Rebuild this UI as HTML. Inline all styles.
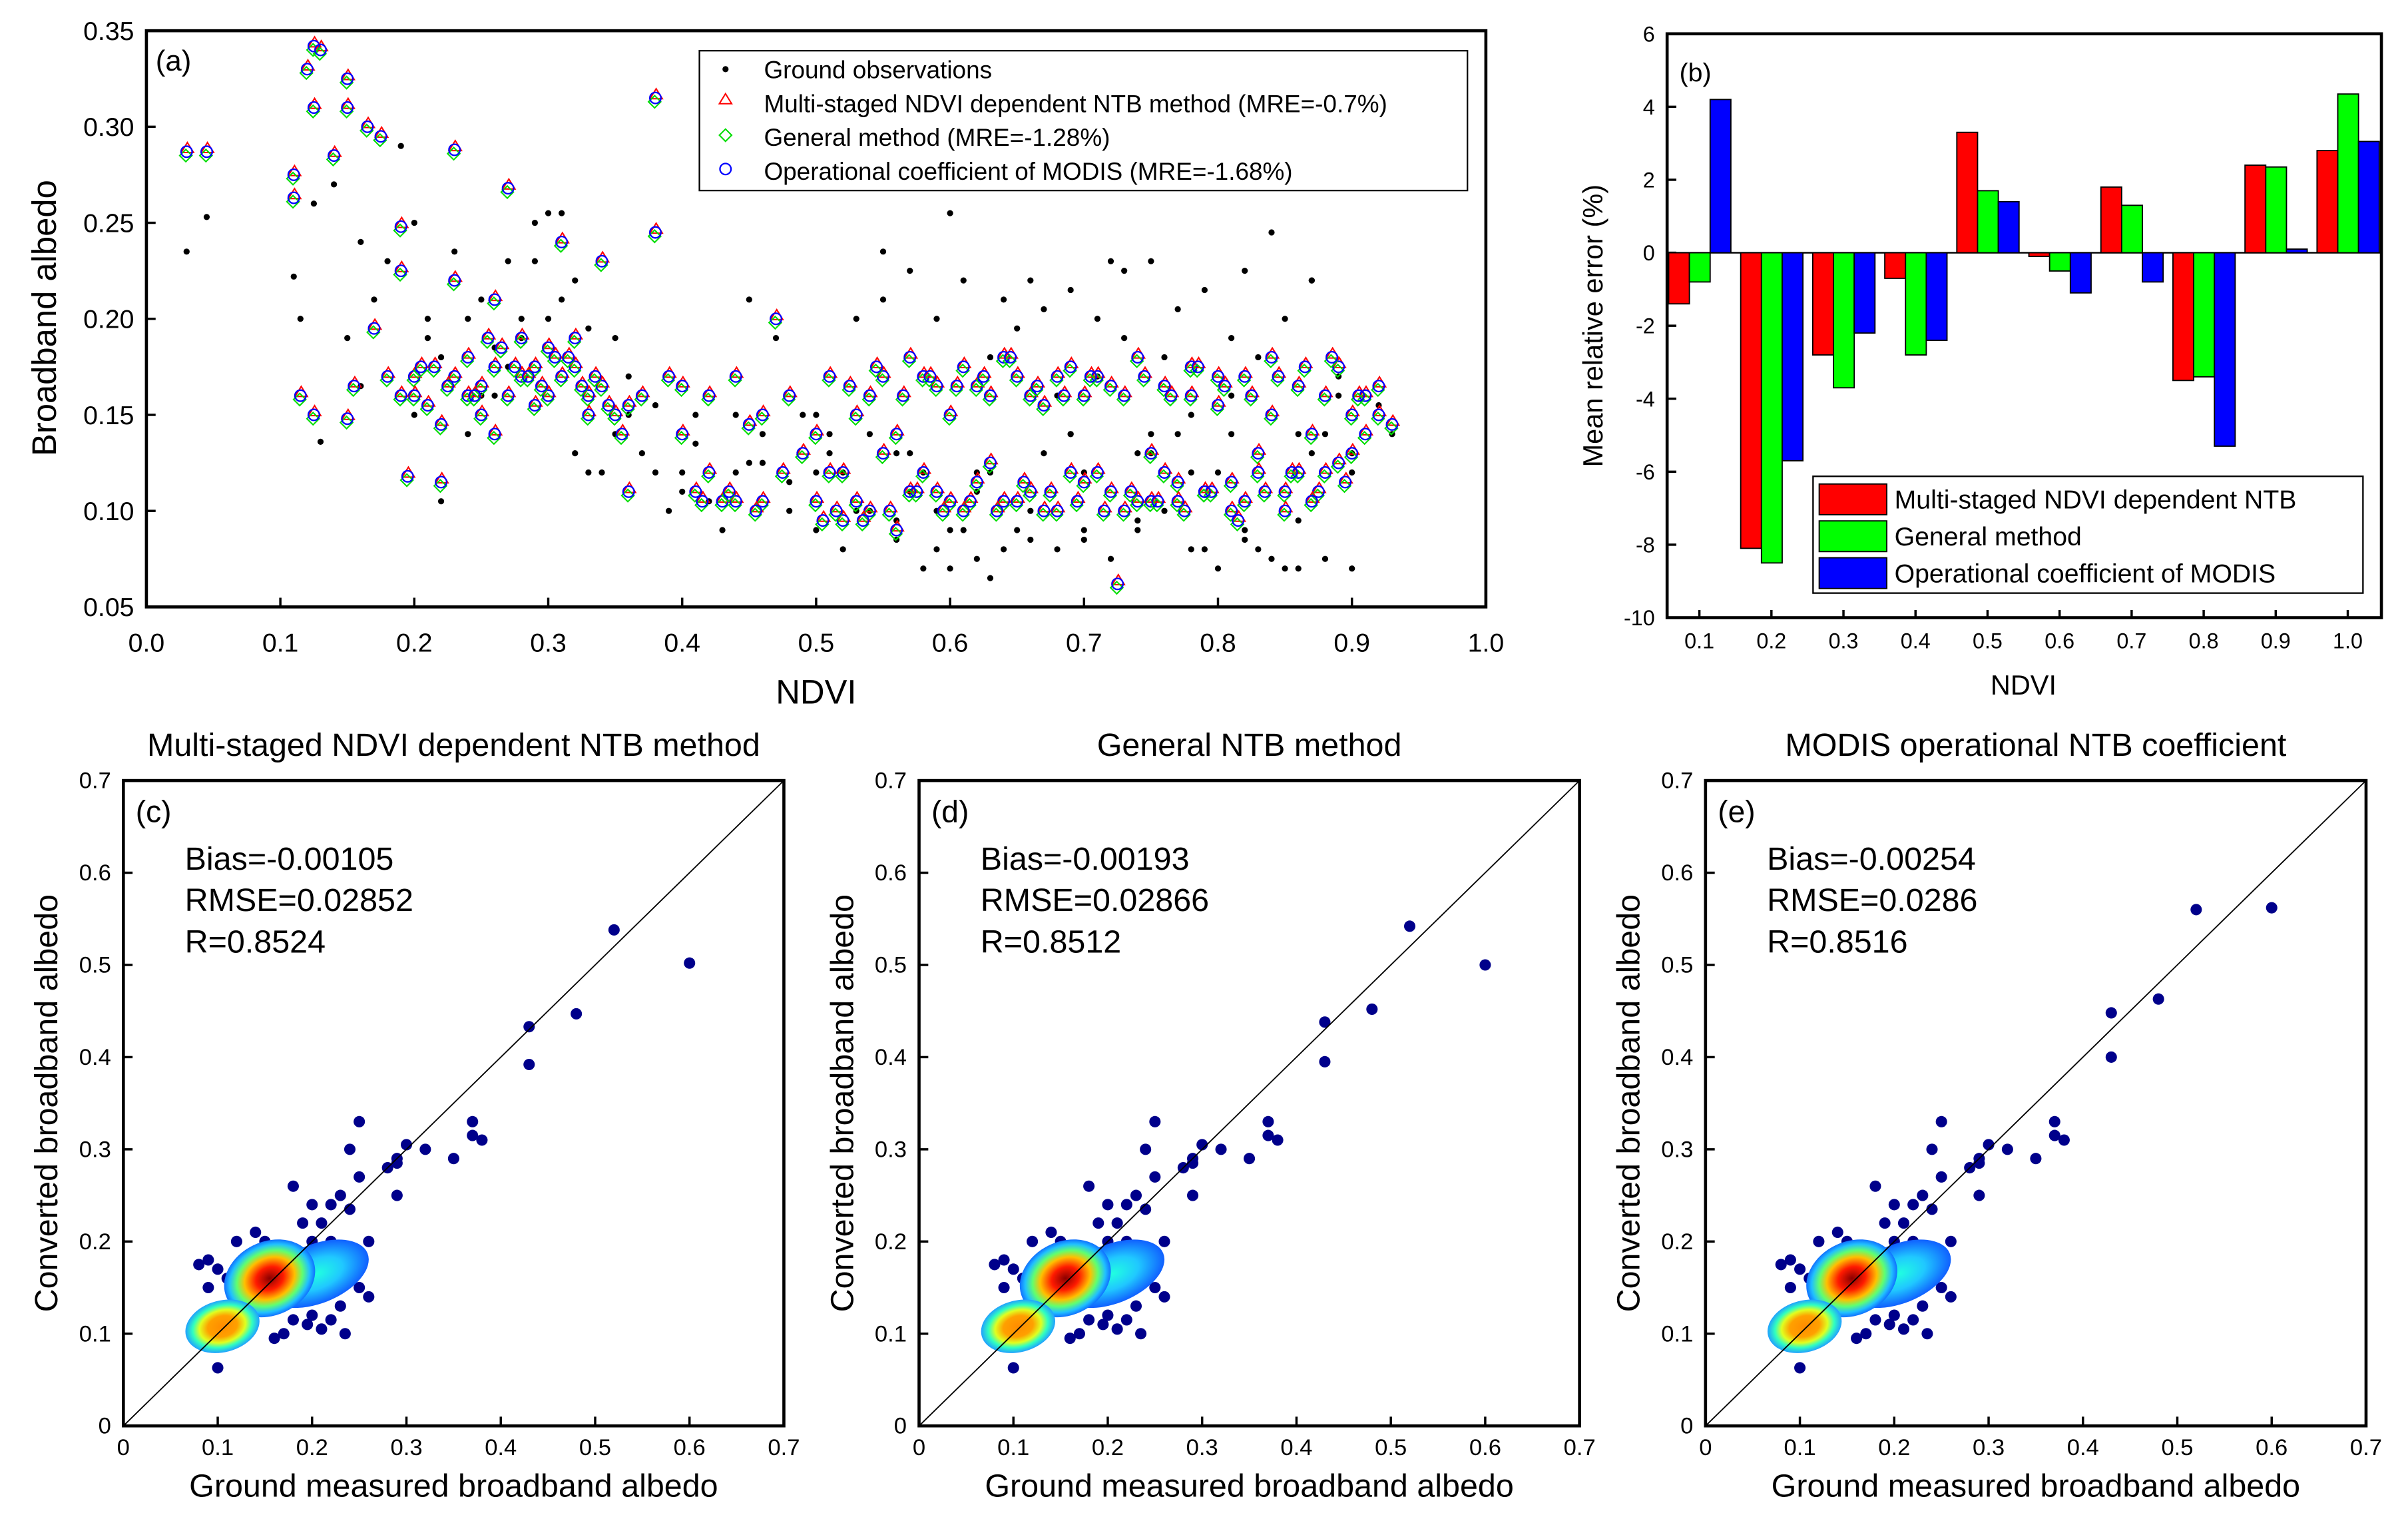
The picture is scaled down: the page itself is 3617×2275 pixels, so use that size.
<!DOCTYPE html>
<html><head><meta charset="utf-8"><style>
html,body{margin:0;padding:0;background:#fff}
svg{display:block}
text{font-family:"Liberation Sans",Arial,sans-serif;fill:#000}
</style></head><body>
<svg id="fig" width="3617" height="2275" viewBox="0 0 1567 986" xmlns="http://www.w3.org/2000/svg">
<defs>
<radialGradient id="gBig" cx="50%" cy="50%" r="50%">
<stop offset="0" stop-color="#8b0000"/><stop offset="0.3" stop-color="#ff1a00"/><stop offset="0.55" stop-color="#ffc000"/><stop offset="0.72" stop-color="#60ff70"/><stop offset="0.88" stop-color="#20c0ff"/><stop offset="1" stop-color="#1070ff"/>
</radialGradient>
<radialGradient id="gSmall" cx="50%" cy="50%" r="50%">
<stop offset="0" stop-color="#ff8c00"/><stop offset="0.4" stop-color="#ffa000"/><stop offset="0.62" stop-color="#e0ff20"/><stop offset="0.8" stop-color="#30ffc0"/><stop offset="1" stop-color="#20a0ff"/>
</radialGradient>
<radialGradient id="gRight" cx="50%" cy="50%" r="50%">
<stop offset="0" stop-color="#20ffe0"/><stop offset="0.5" stop-color="#20c8ff"/><stop offset="1" stop-color="#1060ff"/>
</radialGradient>
</defs>
</svg>
<script>
// ---------- Panel (b) data ----------
const ndviCats = ['0.1','0.2','0.3','0.4','0.5','0.6','0.7','0.8','0.9','1.0'];
const mreNTB = [-1.4,-8.1,-2.8,-0.7,3.3,-0.1,1.8,-3.5,2.4,2.8];
const mreGeneral = [-0.8,-8.5,-3.7,-2.8,1.7,-0.5,1.3,-3.4,2.35,4.35];
const mreMODIS = [4.2,-5.7,-2.2,-2.4,1.4,-1.1,-0.8,-5.3,0.1,3.05];
const bTicks = [-10,-8,-6,-4,-2,0,2,4,6];

// ---------- Panel (a) data ----------
const convNdvi = [0.03,0.045,0.11,0.11,0.12,0.125,0.13,0.125,0.14,0.15,0.15,0.165,0.175,0.115,0.125,0.15,0.155,0.17,0.19,0.19,0.195,0.2,0.215,0.22,0.23,0.23,0.24,0.25,0.25,0.26,0.26,0.27,0.28,0.29,0.3,0.31,0.31,0.32,0.33,0.34,0.35,0.36,0.37,0.38,0.38,0.39,0.4,0.41,0.42,0.43,0.44,0.45,0.46,0.47,0.48,0.49,0.5,0.51,0.52,0.53,0.54,0.55,0.56,0.57,0.58,0.59,0.6,0.61,0.62,0.63,0.64,0.65,0.66,0.67,0.68,0.69,0.7,0.71,0.72,0.725,0.73,0.74,0.75,0.76,0.77,0.78,0.79,0.8,0.81,0.82,0.83,0.84,0.85,0.86,0.87,0.88,0.89,0.9,0.91,0.92,0.93,
0.2,0.21,0.22,0.23,0.24,0.26,0.27,0.28,0.29,0.3,0.32,0.33,0.34,0.36,0.4,0.42,0.44,0.46,0.5,0.52,0.54,0.56,0.58,0.6,0.62,0.64,0.66,0.68,0.7,0.72,0.74,0.76,0.78,0.8,0.82,0.84,0.86,0.88,0.9,0.92,
0.415,0.435,0.455,0.475,0.505,0.515,0.535,0.555,0.575,0.595,0.615,0.635,0.655,0.675,0.695,0.715,0.735,0.755,0.775,0.795,0.815,0.835,0.855,0.875,0.895,0.905,0.525,0.545,0.565,0.585,0.605,0.625,0.645,0.665,0.685,0.705,0.745,0.765,0.785,0.805,0.825,0.845,0.865,0.885,
0.205,0.225,0.245,0.265,0.285,0.305,0.325,0.345,0.18,0.19,0.255,0.275,0.295,0.315,0.335,0.355,0.53,0.57,0.61,0.65,0.69,0.73,0.77,0.81,0.85,0.89,0.51,0.55,0.59,0.63,0.67,0.71,0.75,0.79,0.83,0.87,0.91];
const convAlbedo = [0.287,0.287,0.275,0.263,0.33,0.342,0.34,0.31,0.285,0.325,0.31,0.30,0.295,0.16,0.15,0.148,0.165,0.195,0.248,0.225,0.118,0.17,0.175,0.115,0.288,0.22,0.18,0.165,0.15,0.14,0.21,0.268,0.19,0.175,0.185,0.17,0.24,0.19,0.16,0.23,0.15,0.11,0.16,0.315,0.245,0.17,0.14,0.11,0.16,0.105,0.17,0.145,0.105,0.2,0.16,0.13,0.105,0.17,0.095,0.15,0.1,0.17,0.09,0.18,0.12,0.165,0.105,0.175,0.115,0.16,0.105,0.17,0.11,0.155,0.1,0.175,0.115,0.17,0.11,0.062,0.16,0.18,0.105,0.165,0.115,0.175,0.11,0.155,0.1,0.17,0.13,0.18,0.11,0.165,0.14,0.12,0.175,0.15,0.16,0.15,0.145,
0.16,0.155,0.145,0.17,0.16,0.175,0.16,0.17,0.155,0.16,0.175,0.15,0.165,0.155,0.165,0.12,0.105,0.15,0.14,0.12,0.16,0.14,0.17,0.15,0.165,0.18,0.16,0.17,0.16,0.165,0.105,0.12,0.16,0.17,0.105,0.15,0.12,0.16,0.13,0.165,
0.105,0.11,0.1,0.12,0.095,0.1,0.095,0.1,0.11,0.1,0.105,0.1,0.115,0.11,0.105,0.1,0.11,0.105,0.1,0.11,0.095,0.11,0.12,0.11,0.115,0.16,0.165,0.175,0.16,0.17,0.165,0.17,0.18,0.165,0.16,0.17,0.17,0.16,0.175,0.165,0.16,0.17,0.175,0.18,
0.175,0.165,0.16,0.185,0.17,0.18,0.165,0.155,0.17,0.16,0.19,0.175,0.165,0.18,0.17,0.14,0.105,0.11,0.1,0.105,0.12,0.1,0.105,0.115,0.1,0.125,0.12,0.13,0.11,0.125,0.1,0.12,0.13,0.11,0.12,0.105,0.14];
const groundNdvi = [0.03,0.045,0.11,0.115,0.125,0.13,0.14,0.15,0.16,0.17,0.18,0.19,0.2,0.2,0.21,0.22,0.22,0.23,0.24,0.25,0.25,0.26,0.27,0.27,0.28,0.29,0.3,0.3,0.31,0.32,0.33,0.34,0.35,0.36,0.37,0.38,0.39,0.4,0.41,0.42,0.43,0.44,0.45,0.46,0.47,0.48,0.49,0.5,0.51,0.52,0.53,0.54,0.55,0.56,0.57,0.58,0.59,0.6,0.6,0.61,0.62,0.63,0.64,0.65,0.66,0.67,0.68,0.69,0.7,0.71,0.72,0.73,0.74,0.75,0.76,0.77,0.78,0.79,0.8,0.81,0.82,0.83,0.84,0.85,0.86,0.87,0.88,0.89,0.9,0.92,0.93,
0.16,0.21,0.26,0.29,0.31,0.33,0.35,0.38,0.41,0.45,0.48,0.5,0.52,0.54,0.56,0.58,0.6,0.62,0.64,0.66,0.68,0.7,0.72,0.74,0.76,0.78,0.8,0.82,0.84,0.86,0.88,0.9,0.55,0.57,0.59,0.61,0.63,0.65,0.67,0.69,0.71,0.73,0.75,0.77,0.79,0.81,0.83,0.85,0.87,0.89,
0.24,0.28,0.32,0.36,0.4,0.44,0.46,0.5,0.53,0.56,0.59,0.62,0.66,0.7,0.74,0.78,0.82,0.86,0.9,0.51,0.57,0.63,0.69,0.75,0.81,0.87];
const groundAlbedo = [0.235,0.253,0.222,0.2,0.26,0.136,0.27,0.19,0.24,0.21,0.23,0.29,0.25,0.15,0.2,0.105,0.18,0.235,0.2,0.21,0.16,0.185,0.23,0.175,0.19,0.25,0.255,0.2,0.255,0.22,0.12,0.12,0.19,0.15,0.13,0.155,0.1,0.12,0.135,0.105,0.09,0.12,0.21,0.14,0.19,0.115,0.15,0.15,0.13,0.12,0.2,0.14,0.235,0.13,0.11,0.12,0.08,0.255,0.07,0.09,0.075,0.065,0.21,0.09,0.22,0.13,0.16,0.14,0.12,0.17,0.23,0.225,0.13,0.14,0.18,0.14,0.15,0.08,0.12,0.16,0.225,0.08,0.245,0.07,0.14,0.22,0.14,0.16,0.07,0.155,0.14,
0.165,0.19,0.16,0.23,0.21,0.195,0.14,0.12,0.15,0.125,0.1,0.09,0.08,0.1,0.085,0.07,0.09,0.12,0.08,0.1,0.08,0.085,0.075,0.09,0.1,0.12,0.07,0.09,0.075,0.07,0.075,0.12,0.21,0.225,0.2,0.22,0.18,0.195,0.205,0.215,0.2,0.19,0.23,0.205,0.215,0.19,0.18,0.2,0.22,0.17,
0.14,0.2,0.13,0.17,0.11,0.15,0.125,0.12,0.1,0.095,0.1,0.11,0.085,0.09,0.095,0.08,0.085,0.095,0.13,0.14,0.13,0.12,0.14,0.13,0.14,0.13];

// ---------- Panels (c)-(e) data ----------
const scatterPanels = ['Multi-staged NDVI dependent NTB method','General NTB method','MODIS operational NTB coefficient'];
const panelLetters = ['(c)','(d)','(e)'];
const biasVals = ['-0.00105','-0.00193','-0.00254'];
const rmseVals = ['0.02852','0.02866','0.0286'];
const rVals = ['0.8524','0.8512','0.8516'];
const highGround = [0.52,0.60,0.48,0.43,0.43];
const highConvC = [0.538,0.502,0.447,0.433,0.392];
const highConvD = [0.542,0.500,0.452,0.438,0.395];
const highConvE = [0.560,0.562,0.463,0.448,0.400];
const outGround = [0.37,0.37,0.38,0.35,0.32,0.30,0.29,0.28,0.29,0.25,0.24,0.25,0.29,0.22,0.23,0.24,0.18,0.20,0.21,0.19,0.20,0.22,0.24,0.25,0.24,0.21,0.20,0.18,0.17,0.16,0.13,0.10,0.09,0.08,0.10,0.12,0.14,0.25,0.26,0.23,0.26,0.15,0.20,0.09,0.11,0.135,0.15,0.22,0.235,0.21,0.195];
const outConv = [0.33,0.315,0.31,0.29,0.30,0.305,0.29,0.28,0.285,0.33,0.30,0.27,0.25,0.24,0.25,0.235,0.26,0.24,0.22,0.22,0.20,0.20,0.19,0.18,0.17,0.17,0.12,0.115,0.10,0.095,0.10,0.063,0.18,0.175,0.17,0.20,0.21,0.15,0.14,0.13,0.20,0.19,0.16,0.15,0.16,0.185,0.2,0.115,0.1,0.105,0.11];
const scatterTicks = [0,0.1,0.2,0.3,0.4,0.5,0.6,0.7];

const NS='http://www.w3.org/2000/svg';
const svg=document.getElementById('fig');
function mk(tag,attrs,parent){const e=document.createElementNS(NS,tag);for(const k in attrs)e.setAttribute(k,attrs[k]);(parent||svg).appendChild(e);return e;}
function txt(s,x,y,size,anchor,parent,rot){const t=mk('text',{x:x,y:y,'font-size':size,'text-anchor':anchor||'start'},parent);if(rot)t.setAttribute('transform',`rotate(${rot} ${x} ${y})`);t.textContent=s;return t;}

// ===== Panel (a) =====
const ga=mk('g',{});


const ax=v=>95+v*872, ay=v=>395-(v-0.05)/0.3*375;
for(let i=0;i<=10;i++){const v=i/10;mk('line',{x1:ax(v),x2:ax(v),y1:395,y2:389,stroke:'#000','stroke-width':1.5},ga);
 const t=txt(v.toFixed(1),ax(v),424,17,'middle',ga);}
for(let i=0;i<=6;i++){const v=0.05+i*0.05;mk('line',{x1:95,x2:101,y1:ay(v),y2:ay(v),stroke:'#000','stroke-width':1.5},ga);
 const t=txt(v.toFixed(2),87,ay(v)+6,17,'end',ga);}
for(let i=0;i<groundNdvi.length;i++){const c=mk('circle',{cx:ax(groundNdvi[i]),cy:ay(groundAlbedo[i]),r:2,fill:'#000'},ga);
 }
for(let i=0;i<convNdvi.length;i++){const x=ax(convNdvi[i]),y=ay(convAlbedo[i]);
 const tr=mk('path',{d:`M${x+0.5} ${y-6} l4 6.5 h-8z`,fill:'none',stroke:'#ff0000','stroke-width':0.9},ga);
 
 const dm=mk('path',{d:`M${x-0.5} ${y-1.5} l4 4 l-4 4 l-4 -4z`,fill:'none',stroke:'#00dd00','stroke-width':0.9},ga);
 
 const cc=mk('circle',{cx:x,cy:y,r:3.6,fill:'none',stroke:'#0000ff','stroke-width':1},ga);
 }
mk('rect',{x:95,y:20,width:872,height:375,fill:'none',stroke:'#000','stroke-width':2},ga);
txt('(a)',101,46,19,'start',ga);
const ylA=txt('Broadband albedo',36,207,22,'middle',ga,-90);
const xlA=txt('NDVI',531,458,22,'middle',ga);
const lgA=mk('g',{},ga);
mk('rect',{x:455,y:33,width:500,height:91,fill:'#fff',stroke:'#000','stroke-width':1},lgA);
mk('circle',{cx:472,cy:45,r:2,fill:'#000'},lgA);
mk('path',{d:'M472 61 l4 6.5 h-8z',fill:'none',stroke:'#f00','stroke-width':0.9},lgA);
mk('path',{d:'M472 84 l4 4 l-4 4 l-4 -4z',fill:'none',stroke:'#0d0','stroke-width':0.9},lgA);
mk('circle',{cx:472,cy:110,r:3.6,fill:'none',stroke:'#00f','stroke-width':1},lgA);
const la=['Ground observations','Multi-staged NDVI dependent NTB method (MRE=-0.7%)','General method (MRE=-1.28%)','Operational coefficient of MODIS (MRE=-1.68%)'];
la.forEach((s,i)=>{const t=txt(s,497,51+i*22,16,'start',lgA);});

// ===== Panel (b) =====
const gb=mk('g',{});
const bx=i=>1106+i*46.9, by=v=>164.5-v*23.75;
bTicks.forEach(v=>{mk('line',{x1:1085,x2:1091,y1:by(v),y2:by(v),stroke:'#000','stroke-width':1.5},gb);
 const t=txt(String(v),1077,by(v)+5,14,'end',gb);});
mk('line',{x1:1085,x2:1550,y1:by(0),y2:by(0),stroke:'#000','stroke-width':1},gb);
const series=[[mreNTB,'#ff0000','bar-ntb'],[mreGeneral,'#00ff00','bar-general'],[mreMODIS,'#0000ff','bar-modis']];
ndviCats.forEach((c,i)=>{
 series.forEach((s,k)=>{const v=s[0][i];const x=bx(i)-20+k*13.5;const y0=by(Math.max(v,0)),h=Math.abs(by(v)-by(0));
  const r=mk('rect',{x:x,y:y0,width:13.5,height:h,fill:s[1],stroke:'#000','stroke-width':0.8},gb);
  });
 mk('line',{x1:bx(i),x2:bx(i),y1:402,y2:397,stroke:'#000','stroke-width':1.5},gb);
 const t=txt(c,bx(i),422,14,'middle',gb);
});
mk('rect',{x:1085,y:22,width:465,height:380,fill:'none',stroke:'#000','stroke-width':2},gb);
txt('(b)',1093,53,17,'start',gb);
const ylB=txt('Mean relative error (%)',1043,212,18,'middle',gb,-90);
const xlB=txt('NDVI',1317,452,18,'middle',gb);
const lgB=mk('g',{},gb);
mk('rect',{x:1180,y:310,width:358,height:76,fill:'#fff',stroke:'#000','stroke-width':1},lgB);
[['#f00','Multi-staged NDVI dependent NTB'],['#0f0','General method'],['#00f','Operational coefficient of MODIS']].forEach((e,i)=>{
 mk('rect',{x:1184,y:315+i*24,width:44,height:20,fill:e[0],stroke:'#000','stroke-width':0.8},lgB);
 const t=txt(e[1],1233,331+i*24,17,'start',lgB);});

// ===== Panels (c)-(e) =====
const lefts=[80,598,1110];
const highs=[highConvC,highConvD,highConvE];
const blobs=[ // [cx, cy, rx, ry, fill, rot]
 [0.205,0.165,0.058,0.032,'url(#gRight)',-22],
 [0.155,0.16,0.05,0.04,'url(#gBig)',-25],
 [0.105,0.108,0.04,0.028,'url(#gSmall)',-15]];
lefts.forEach((L,p)=>{
 const g=mk('g',{});
 const sx=v=>L+v/0.7*430, sy=v=>928-v/0.7*420;
 scatterTicks.forEach(v=>{
  mk('line',{x1:sx(v),x2:sx(v),y1:928,y2:922,stroke:'#000','stroke-width':1.5},g);
  mk('line',{x1:L,x2:L+6,y1:sy(v),y2:sy(v),stroke:'#000','stroke-width':1.5},g);
  const lab=v===0?'0':v.toFixed(1);
  const tx=txt(lab,sx(v),947,15,'middle',g);
  const ty=txt(lab,L-8,sy(v)+5,15,'end',g);
 });
 for(let i=0;i<outGround.length;i++){const c=mk('circle',{cx:sx(outGround[i]),cy:sy(outConv[i]),r:3.7,fill:'#00008b'},g);
  }
 blobs.forEach(b=>{const e=mk('ellipse',{cx:sx(b[0]),cy:sy(b[1]),rx:b[2]/0.7*430,ry:b[3]/0.7*420,fill:b[4],transform:`rotate(${b[5]} ${sx(b[0])} ${sy(b[1])})`},g);
  });
 for(let i=0;i<highGround.length;i++){const c=mk('circle',{cx:sx(highGround[i]),cy:sy(highs[p][i]),r:3.7,fill:'#00008b'},g);
  }
 const one=mk('line',{x1:sx(0),y1:sy(0),x2:sx(0.7),y2:sy(0.7),stroke:'#000','stroke-width':0.8},g);
 
 mk('rect',{x:L,y:508,width:430,height:420,fill:'none',stroke:'#000','stroke-width':2},g);
 const ti=txt(scatterPanels[p],L+215,492,21,'middle',g);
 txt(panelLetters[p],L+8,535,20,'start',g);
 txt('Bias='+biasVals[p],L+40,566,21,'start',g);
 txt('RMSE='+rmseVals[p],L+40,593,21,'start',g);
 txt('R='+rVals[p],L+40,620,21,'start',g);
 const yl=txt('Converted broadband albedo',L-43,718,21,'middle',g,-90);
 const xl=txt('Ground measured broadband albedo',L+215,974,21,'middle',g);
});
</script>
</body></html>
